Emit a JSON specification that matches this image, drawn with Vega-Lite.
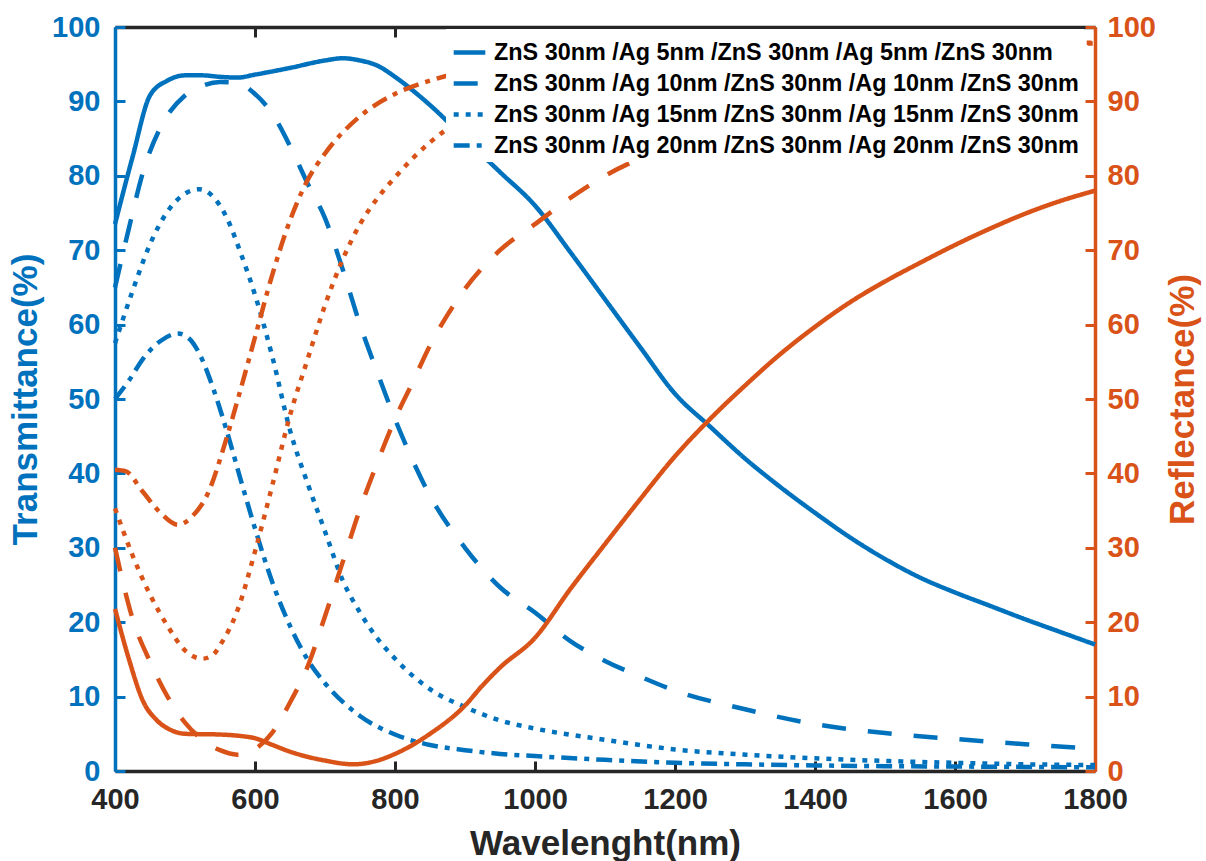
{
  "$schema": "https://vega.github.io/schema/vega-lite/v6.json",
  "width": 980,
  "height": 744,
  "autosize": {"type": "none"},
  "padding": {"left": 115, "top": 27, "right": 111, "bottom": 90},
  "background": "white",
  "config": {"view": {"stroke": null}, "font": "Liberation Sans", "axis": {"grid": false}},
  "datasets": {
    "trans": [
      {"ag":"5","nm":400,"T":73.5},{"ag":"5","nm":425,"T":82.5},{"ag":"5","nm":450,"T":90.8},{"ag":"5","nm":475,"T":92.8},{"ag":"5","nm":500,"T":93.5},{"ag":"5","nm":525,"T":93.5},{"ag":"5","nm":550,"T":93.3},{"ag":"5","nm":575,"T":93.2},{"ag":"5","nm":600,"T":93.6},{"ag":"5","nm":650,"T":94.5},{"ag":"5","nm":700,"T":95.5},{"ag":"5","nm":725,"T":95.8},{"ag":"5","nm":750,"T":95.5},{"ag":"5","nm":775,"T":94.8},{"ag":"5","nm":800,"T":93.3},{"ag":"5","nm":825,"T":91.5},{"ag":"5","nm":850,"T":89.5},{"ag":"5","nm":900,"T":85},{"ag":"5","nm":950,"T":80.5},{"ag":"5","nm":1000,"T":76},{"ag":"5","nm":1050,"T":69.8},{"ag":"5","nm":1100,"T":63.4},{"ag":"5","nm":1150,"T":57},{"ag":"5","nm":1200,"T":50.7},{"ag":"5","nm":1250,"T":46.3},{"ag":"5","nm":1300,"T":42},{"ag":"5","nm":1350,"T":38.2},{"ag":"5","nm":1400,"T":34.7},{"ag":"5","nm":1450,"T":31.4},{"ag":"5","nm":1500,"T":28.5},{"ag":"5","nm":1550,"T":26},{"ag":"5","nm":1600,"T":24},{"ag":"5","nm":1650,"T":22.2},{"ag":"5","nm":1700,"T":20.4},{"ag":"5","nm":1750,"T":18.7},{"ag":"5","nm":1800,"T":17},
      {"ag":"10","nm":400,"T":65},{"ag":"10","nm":420,"T":73},{"ag":"10","nm":440,"T":80.5},{"ag":"10","nm":465,"T":86.5},{"ag":"10","nm":500,"T":90.8},{"ag":"10","nm":525,"T":92.1},{"ag":"10","nm":550,"T":92.6},{"ag":"10","nm":575,"T":92.5},{"ag":"10","nm":600,"T":91},{"ag":"10","nm":625,"T":88.3},{"ag":"10","nm":650,"T":84},{"ag":"10","nm":675,"T":79},{"ag":"10","nm":700,"T":74.3},{"ag":"10","nm":725,"T":67.5},{"ag":"10","nm":750,"T":60},{"ag":"10","nm":775,"T":53.5},{"ag":"10","nm":800,"T":47.3},{"ag":"10","nm":825,"T":41.8},{"ag":"10","nm":850,"T":37},{"ag":"10","nm":900,"T":30},{"ag":"10","nm":950,"T":24.7},{"ag":"10","nm":1000,"T":21.3},{"ag":"10","nm":1050,"T":17.5},{"ag":"10","nm":1100,"T":14.8},{"ag":"10","nm":1150,"T":12.7},{"ag":"10","nm":1200,"T":10.8},{"ag":"10","nm":1300,"T":8.3},{"ag":"10","nm":1400,"T":6.3},{"ag":"10","nm":1500,"T":5.1},{"ag":"10","nm":1600,"T":4.3},{"ag":"10","nm":1700,"T":3.6},{"ag":"10","nm":1800,"T":3.0},
      {"ag":"15","nm":400,"T":57.5},{"ag":"15","nm":425,"T":64.5},{"ag":"15","nm":450,"T":70.8},{"ag":"15","nm":475,"T":75.2},{"ag":"15","nm":500,"T":77.6},{"ag":"15","nm":520,"T":78.2},{"ag":"15","nm":540,"T":77.2},{"ag":"15","nm":560,"T":74.3},{"ag":"15","nm":580,"T":69.5},{"ag":"15","nm":600,"T":64},{"ag":"15","nm":625,"T":55.6},{"ag":"15","nm":650,"T":45.8},{"ag":"15","nm":675,"T":38.7},{"ag":"15","nm":700,"T":32.2},{"ag":"15","nm":725,"T":25.7},{"ag":"15","nm":750,"T":21.3},{"ag":"15","nm":775,"T":17.8},{"ag":"15","nm":800,"T":15.1},{"ag":"15","nm":850,"T":11},{"ag":"15","nm":900,"T":8.6},{"ag":"15","nm":950,"T":6.8},{"ag":"15","nm":1000,"T":5.7},{"ag":"15","nm":1100,"T":4.2},{"ag":"15","nm":1200,"T":2.9},{"ag":"15","nm":1300,"T":2.2},{"ag":"15","nm":1400,"T":1.7},{"ag":"15","nm":1500,"T":1.35},{"ag":"15","nm":1600,"T":1.1},{"ag":"15","nm":1700,"T":0.9},{"ag":"15","nm":1800,"T":0.8},
      {"ag":"20","nm":400,"T":50},{"ag":"20","nm":420,"T":52.5},{"ag":"20","nm":440,"T":55.4},{"ag":"20","nm":465,"T":57.8},{"ag":"20","nm":490,"T":58.8},{"ag":"20","nm":505,"T":58.2},{"ag":"20","nm":520,"T":56.2},{"ag":"20","nm":540,"T":51.5},{"ag":"20","nm":560,"T":45.6},{"ag":"20","nm":580,"T":39},{"ag":"20","nm":600,"T":32.6},{"ag":"20","nm":625,"T":25.3},{"ag":"20","nm":650,"T":19.5},{"ag":"20","nm":675,"T":15},{"ag":"20","nm":700,"T":11.8},{"ag":"20","nm":750,"T":7.4},{"ag":"20","nm":800,"T":4.9},{"ag":"20","nm":850,"T":3.5},{"ag":"20","nm":900,"T":2.8},{"ag":"20","nm":950,"T":2.3},{"ag":"20","nm":1000,"T":2},{"ag":"20","nm":1100,"T":1.5},{"ag":"20","nm":1200,"T":1.1},{"ag":"20","nm":1300,"T":0.9},{"ag":"20","nm":1400,"T":0.75},{"ag":"20","nm":1500,"T":0.65},{"ag":"20","nm":1600,"T":0.6},{"ag":"20","nm":1700,"T":0.55},{"ag":"20","nm":1800,"T":0.5}
    ],
    "refl": [
      {"ag":"5","nm":400,"R":21.8},{"ag":"5","nm":420,"R":15},{"ag":"5","nm":440,"R":9.4},{"ag":"5","nm":460,"R":6.8},{"ag":"5","nm":480,"R":5.5},{"ag":"5","nm":500,"R":5},{"ag":"5","nm":550,"R":4.9},{"ag":"5","nm":580,"R":4.7},{"ag":"5","nm":600,"R":4.4},{"ag":"5","nm":625,"R":3.5},{"ag":"5","nm":650,"R":2.6},{"ag":"5","nm":700,"R":1.4},{"ag":"5","nm":740,"R":0.9},{"ag":"5","nm":775,"R":1.4},{"ag":"5","nm":800,"R":2.3},{"ag":"5","nm":850,"R":5},{"ag":"5","nm":900,"R":8.8},{"ag":"5","nm":925,"R":11.5},{"ag":"5","nm":950,"R":13.9},{"ag":"5","nm":1000,"R":17.9},{"ag":"5","nm":1050,"R":24.4},{"ag":"5","nm":1100,"R":30.5},{"ag":"5","nm":1150,"R":36.5},{"ag":"5","nm":1200,"R":42.3},{"ag":"5","nm":1250,"R":47.3},{"ag":"5","nm":1300,"R":51.8},{"ag":"5","nm":1350,"R":56},{"ag":"5","nm":1400,"R":59.7},{"ag":"5","nm":1450,"R":63},{"ag":"5","nm":1500,"R":65.8},{"ag":"5","nm":1550,"R":68.3},{"ag":"5","nm":1600,"R":70.7},{"ag":"5","nm":1650,"R":72.9},{"ag":"5","nm":1700,"R":74.9},{"ag":"5","nm":1750,"R":76.6},{"ag":"5","nm":1800,"R":78},
      {"ag":"10","nm":400,"R":30},{"ag":"10","nm":425,"R":20.5},{"ag":"10","nm":450,"R":14.7},{"ag":"10","nm":475,"R":10},{"ag":"10","nm":500,"R":6.5},{"ag":"10","nm":525,"R":4.2},{"ag":"10","nm":550,"R":2.8},{"ag":"10","nm":575,"R":2.2},{"ag":"10","nm":590,"R":2.3},{"ag":"10","nm":600,"R":2.9},{"ag":"10","nm":625,"R":5.2},{"ag":"10","nm":650,"R":9.2},{"ag":"10","nm":675,"R":14},{"ag":"10","nm":700,"R":20.8},{"ag":"10","nm":725,"R":28},{"ag":"10","nm":750,"R":35.2},{"ag":"10","nm":775,"R":41.5},{"ag":"10","nm":800,"R":47.3},{"ag":"10","nm":825,"R":52.2},{"ag":"10","nm":850,"R":57.2},{"ag":"10","nm":875,"R":61.3},{"ag":"10","nm":900,"R":64.8},{"ag":"10","nm":950,"R":70},{"ag":"10","nm":1000,"R":73.5},{"ag":"10","nm":1050,"R":77},{"ag":"10","nm":1100,"R":80},{"ag":"10","nm":1200,"R":84.2},{"ag":"10","nm":1300,"R":87.3},{"ag":"10","nm":1400,"R":89.5},{"ag":"10","nm":1500,"R":91.3},{"ag":"10","nm":1600,"R":92.6},{"ag":"10","nm":1700,"R":93.6},{"ag":"10","nm":1800,"R":94.3},
      {"ag":"15","nm":400,"R":35.3},{"ag":"15","nm":425,"R":29},{"ag":"15","nm":450,"R":23.7},{"ag":"15","nm":475,"R":19.5},{"ag":"15","nm":500,"R":16.2},{"ag":"15","nm":525,"R":15.1},{"ag":"15","nm":540,"R":15.6},{"ag":"15","nm":550,"R":16.9},{"ag":"15","nm":575,"R":21.6},{"ag":"15","nm":600,"R":29.5},{"ag":"15","nm":625,"R":38.5},{"ag":"15","nm":650,"R":47.8},{"ag":"15","nm":675,"R":55.3},{"ag":"15","nm":700,"R":62.6},{"ag":"15","nm":725,"R":68.7},{"ag":"15","nm":750,"R":73.5},{"ag":"15","nm":775,"R":77},{"ag":"15","nm":800,"R":79.8},{"ag":"15","nm":850,"R":84.5},{"ag":"15","nm":900,"R":87.8},{"ag":"15","nm":950,"R":89.8},{"ag":"15","nm":1000,"R":91.3},{"ag":"15","nm":1100,"R":93.3},{"ag":"15","nm":1200,"R":94.7},{"ag":"15","nm":1300,"R":95.7},{"ag":"15","nm":1400,"R":96.4},{"ag":"15","nm":1500,"R":97},{"ag":"15","nm":1600,"R":97.4},{"ag":"15","nm":1700,"R":97.7},{"ag":"15","nm":1800,"R":97.9},
      {"ag":"20","nm":400,"R":40.5},{"ag":"20","nm":415,"R":40.3},{"ag":"20","nm":440,"R":37.5},{"ag":"20","nm":465,"R":34.7},{"ag":"20","nm":490,"R":33.1},{"ag":"20","nm":510,"R":34.2},{"ag":"20","nm":535,"R":37.8},{"ag":"20","nm":555,"R":43.4},{"ag":"20","nm":575,"R":49.8},{"ag":"20","nm":600,"R":58.3},{"ag":"20","nm":625,"R":66.8},{"ag":"20","nm":650,"R":74},{"ag":"20","nm":675,"R":79.4},{"ag":"20","nm":700,"R":83},{"ag":"20","nm":750,"R":88},{"ag":"20","nm":800,"R":91},{"ag":"20","nm":850,"R":92.8},{"ag":"20","nm":900,"R":94},{"ag":"20","nm":1000,"R":95.2},{"ag":"20","nm":1100,"R":96},{"ag":"20","nm":1200,"R":96.6},{"ag":"20","nm":1400,"R":97.2},{"ag":"20","nm":1600,"R":97.6},{"ag":"20","nm":1800,"R":97.8}
    ]
  },
  "layer": [
    {
      "data": {"name": "trans"},
      "mark": {"type": "line", "color": "#0072BD", "strokeWidth": 4.5, "interpolate": "monotone"},
      "encoding": {
        "x": {"field": "nm", "type": "quantitative", "scale": {"domain": [400, 1800], "nice": false},
          "axis": {"orient": "bottom", "values": [400, 600, 800, 1000, 1200, 1400, 1600, 1800], "format": "d", "title": "Wavelenght(nm)", "titleFontSize": 35, "titleFontWeight": "bold", "titleColor": "#262626", "titlePadding": 12, "labelFontSize": 29, "labelFontWeight": "bold", "labelColor": "#262626", "labelPadding": 24, "tickSize": -10, "tickWidth": 3, "tickColor": "#262626", "domainColor": "#262626", "domainWidth": 3.5, "labelFlush": false, "labelOverlap": false}},
        "y": {"field": "T", "type": "quantitative", "scale": {"domain": [0, 100], "nice": false},
          "axis": {"orient": "left", "values": [0, 10, 20, 30, 40, 50, 60, 70, 80, 90, 100], "title": "Transmittance(%)", "titleFontSize": 35, "titleFontWeight": "bold", "titleColor": "#0072BD", "titlePadding": 8, "labelFontSize": 29, "labelFontWeight": "bold", "labelColor": "#0072BD", "labelPadding": 25, "tickSize": -10, "tickWidth": 3, "tickColor": "#0072BD", "domainColor": "#0072BD", "domainWidth": 3.5, "labelFlush": false, "labelOverlap": false}},
        "strokeDash": {"field": "ag", "type": "nominal",
          "scale": {"domain": ["5", "10", "15", "20"], "range": [[1, 0], [24, 22], [5, 7], [16, 7, 5, 7]]},
          "legend": {"orient": "none", "legendX": 331, "legendY": 2, "title": null, "fillColor": "white", "padding": 5, "symbolType": "stroke", "symbolSize": 1000, "symbolStrokeWidth": 4.5, "symbolStrokeColor": "#0072BD", "labelFontSize": 23.4, "labelFontWeight": "bold", "labelColor": "black", "labelOffset": 6, "rowPadding": 1, "labelLimit": 900,
            "labelExpr": "'ZnS 30nm /Ag ' + datum.label + 'nm /ZnS 30nm /Ag ' + datum.label + 'nm /ZnS 30nm'"}}
      }
    },
    {
      "data": {"name": "refl"},
      "mark": {"type": "line", "color": "#D95319", "strokeWidth": 4.5, "interpolate": "monotone"},
      "encoding": {
        "x": {"field": "nm", "type": "quantitative", "scale": {"domain": [400, 1800], "nice": false},
          "axis": {"orient": "top", "values": [400, 600, 800, 1000, 1200, 1400, 1600, 1800], "labels": false, "title": null, "tickSize": -10, "tickWidth": 3, "tickColor": "#262626", "domainColor": "#262626", "domainWidth": 3.5}},
        "y": {"field": "R", "type": "quantitative", "scale": {"domain": [0, 100], "nice": false},
          "axis": {"orient": "right", "values": [0, 10, 20, 30, 40, 50, 60, 70, 80, 90, 100], "title": "Reflectance(%)", "titleAngle": -90, "titleBaseline": "top", "titleFontSize": 35, "titleFontWeight": "bold", "titleColor": "#D95319", "titlePadding": 10, "labelFontSize": 29, "labelFontWeight": "bold", "labelColor": "#D95319", "labelPadding": 22, "tickSize": -10, "tickWidth": 3, "tickColor": "#D95319", "domainColor": "#D95319", "domainWidth": 3.5, "labelFlush": false, "labelOverlap": false}},
        "strokeDash": {"field": "ag", "type": "nominal",
          "scale": {"domain": ["5", "10", "15", "20"], "range": [[1, 0], [24, 22], [5, 7], [16, 7, 5, 7]]},
          "legend": null}
      }
    }
  ],
  "resolve": {"scale": {"y": "independent", "strokeDash": "independent"}, "axis": {"x": "independent"}}
}
